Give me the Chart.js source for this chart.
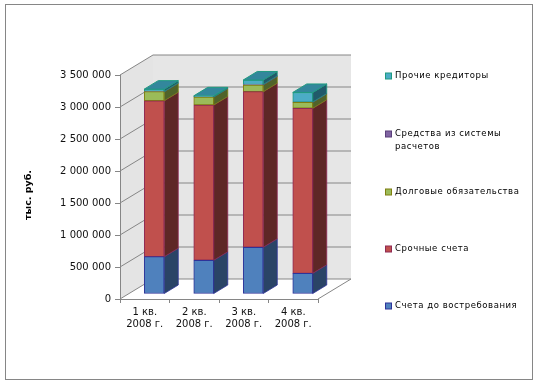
<!DOCTYPE html>
<html>
<head>
<meta charset="utf-8">
<script src="https://cdn.jsdelivr.net/npm/chart.js@4/dist/chart.umd.min.js"></script>
<style>
  html, body { margin: 0; padding: 0; background: #fff; }
  #wrap { width: 539px; height: 384px; position: relative; }
</style>
</head>
<body>
<div id="wrap"><canvas id="c"></canvas></div>
<script>
// ---- data ----
const categories = [['1 кв.', '2008 г.'], ['2 кв.', '2008 г.'], ['3 кв.', '2008 г.'], ['4 кв.', '2008 г.']];
const seriesNames = ['Счета до востребования', 'Срочные счета', 'Долговые обязательства', 'Средства из системы расчетов', 'Прочие кредиторы'];
const demandAccounts = [583000, 527000, 730000, 323000];
const termAccounts = [2437000, 2426000, 2431000, 2579000];
const debtObligations = [141000, 125000, 105000, 94000];
const settlementFunds = [3000, 2000, 8000, 3000];
const otherCreditors = [37000, 16000, 70000, 150000];
const yMax = 3500000;
const yStep = 500000;
const yTitle = 'тыс. руб.';

// ---- styles ----
const fronts = ['#4f81bd', '#c0504d', '#9bbb59', '#8064a2', '#4bacc6'];
const sides  = ['#2a4466', '#5e2726', '#50632a', '#3f3152', '#215a6a'];
const tops   = ['#3d6aa2', '#a33e3b', '#7d9a40', '#63508a', '#33879c'];
const borders= ['#2e3399', '#8e2a55', '#7f7f10', '#5a3f7a', '#1f9a80'];
const values = [demandAccounts, termAccounts, debtObligations, settlementFunds, otherCreditors];

const WALL_DX = 33, WALL_DY = -20;     // depth of the 3D box
const BAR_SHIFT_X = 9.5, BAR_SHIFT_Y = -5; // bar plane offset
const BAR_DX = 14, BAR_DY = -8.5;      // bar depth
const gridColor = '#868686';

function fmt(v) { return String(v).replace(/\B(?=(\d{3})+(?!\d))/g, ' '); }

const wallsPlugin = {
  id: 'walls',
  beforeDraw(chart) {
    const ctx = chart.ctx, a = chart.chartArea, y = chart.scales.y;
    ctx.save();
    ctx.fillStyle = '#fff';
    ctx.fillRect(0, 0, chart.width, chart.height);
    // outer border
    ctx.strokeStyle = gridColor; ctx.lineWidth = 1;
    ctx.strokeRect(5.5, 4.5, 527, 375);
    const L = a.left, R = a.right, T = a.top, B = a.bottom;
    // left wall
    ctx.fillStyle = '#e4e4e4';
    ctx.beginPath();
    ctx.moveTo(L, T); ctx.lineTo(L + WALL_DX, T + WALL_DY);
    ctx.lineTo(L + WALL_DX, B + WALL_DY); ctx.lineTo(L, B); ctx.closePath(); ctx.fill();
    // back wall
    ctx.fillStyle = '#e6e6e6';
    ctx.fillRect(L + WALL_DX, T + WALL_DY, (R - L), B - T);
    // floor
    ctx.fillStyle = '#ffffff';
    ctx.beginPath();
    ctx.moveTo(L, B); ctx.lineTo(R, B); ctx.lineTo(R + WALL_DX, B + WALL_DY);
    ctx.lineTo(L + WALL_DX, B + WALL_DY); ctx.closePath(); ctx.fill();
    // gridlines
    ctx.strokeStyle = gridColor; ctx.lineWidth = 1;
    for (let v = 0; v <= yMax; v += yStep) {
      const py = y.getPixelForValue(v);
      ctx.beginPath();
      ctx.moveTo(L, py); ctx.lineTo(L + WALL_DX, py + WALL_DY);
      ctx.lineTo(R + WALL_DX, py + WALL_DY);
      ctx.stroke();
    }
    // floor right edge
    ctx.beginPath();
    ctx.moveTo(R, B); ctx.lineTo(R + WALL_DX, B + WALL_DY); ctx.stroke();
    ctx.restore();
  },
  beforeDatasetsDraw(chart) {
    chart.ctx.save();
    chart.ctx.translate(BAR_SHIFT_X, BAR_SHIFT_Y);
  },
  afterDatasetsDraw(chart) {
    const ctx = chart.ctx;
    const n = categories.length;
    for (let d = 0; d < values.length; d++) {
      const meta = chart.getDatasetMeta(d);
      meta.data.forEach((el, i) => {
        const p = el.getProps(['x', 'y', 'base', 'width'], true);
        const left = p.x - p.width / 2, right = p.x + p.width / 2;
        const top = Math.min(p.y, p.base), bottom = Math.max(p.y, p.base);
        if (bottom - top < 0.01) return;
        ctx.fillStyle = sides[d]; ctx.strokeStyle = borders[d]; ctx.lineWidth = 0.8;
        ctx.beginPath();
        ctx.moveTo(right, top); ctx.lineTo(right + BAR_DX, top + BAR_DY);
        ctx.lineTo(right + BAR_DX, bottom + BAR_DY); ctx.lineTo(right, bottom);
        ctx.closePath(); ctx.fill(); ctx.stroke();
      });
    }
    for (let i = 0; i < n; i++) {
      let topD = -1;
      for (let d = values.length - 1; d >= 0; d--) { if (values[d][i] > 0) { topD = d; break; } }
      if (topD < 0) continue;
      const el = chart.getDatasetMeta(topD).data[i];
      const p = el.getProps(['x', 'y', 'base', 'width'], true);
      const left = p.x - p.width / 2, right = p.x + p.width / 2, top = Math.min(p.y, p.base);
      ctx.fillStyle = tops[topD]; ctx.strokeStyle = borders[topD]; ctx.lineWidth = 1;
      ctx.beginPath();
      ctx.moveTo(left, top); ctx.lineTo(right, top);
      ctx.lineTo(right + BAR_DX, top + BAR_DY); ctx.lineTo(left + BAR_DX, top + BAR_DY);
      ctx.closePath(); ctx.fill(); ctx.stroke();
    }
    ctx.restore();
  },
  afterDraw(chart) {
    const ctx = chart.ctx;
    ctx.save();
    // y title
    ctx.translate(29, 195);
    ctx.rotate(-Math.PI / 2);
    ctx.font = 'bold 9.5px "DejaVu Sans"';
    ctx.fillStyle = '#000';
    ctx.textAlign = 'center'; ctx.textBaseline = 'middle';
    ctx.fillText(yTitle, 0, 0);
    ctx.restore();
    // legend
    ctx.save();
    const legendY = [76, 134, 192, 249, 306];
    ctx.font = '8.5px "DejaVu Sans"';
    ctx.letterSpacing = '0.55px';
    ctx.textBaseline = 'middle'; ctx.textAlign = 'left';
    for (let k = 0; k < seriesNames.length; k++) {
      const d = seriesNames.length - 1 - k;
      const yy = legendY[k];
      ctx.fillStyle = fronts[d]; ctx.strokeStyle = borders[d]; ctx.lineWidth = 1;
      ctx.fillRect(385.5, yy - 3, 6, 6); ctx.strokeRect(385.5, yy - 3, 6, 6);
      ctx.fillStyle = '#000';
      let name = seriesNames[d];
      if (name === 'Средства из системы расчетов') {
        ctx.fillText('Средства из системы', 395, yy);
        ctx.fillText('расчетов', 395, yy + 12.5);
      } else {
        ctx.fillText(name, 395, yy);
      }
    }
    ctx.restore();
  }
};

const datasets = values.map((vals, d) => ({
  label: seriesNames[d],
  data: vals,
  backgroundColor: fronts[d],
  borderColor: borders[d],
  borderWidth: 1,
  borderSkipped: false,
  barThickness: 20,
  clip: false
}));

new Chart(document.getElementById('c'), {
  type: 'bar',
  data: { labels: categories, datasets },
  options: {
    responsive: true,
    maintainAspectRatio: false,
    animation: false,
    events: [],
    layout: { padding: { left: 0, right: 221, top: 75, bottom: 0 } },
    plugins: { legend: { display: false }, tooltip: { enabled: false }, title: { display: false } },
    scales: {
      x: {
        stacked: true,
        grid: { display: true, drawOnChartArea: false, offset: true, tickLength: 4, color: gridColor },
        border: { display: true, color: gridColor },
        ticks: { color: '#111', font: { family: 'DejaVu Sans', size: 10 }, padding: 3, maxRotation: 0, autoSkip: false },
        afterFit(s) { s.height = 85; }
      },
      y: {
        stacked: true,
        min: 0, max: yMax,
        grid: { display: true, drawOnChartArea: false, tickLength: 5, color: gridColor },
        border: { display: true, color: gridColor },
        ticks: { stepSize: yStep, color: '#111', font: { family: 'DejaVu Sans', size: 10 }, padding: 4, callback: (v) => fmt(v) },
        afterFit(s) { s.width = 120; }
      }
    }
  },
  plugins: [wallsPlugin]
});
</script>
</body>
</html>
